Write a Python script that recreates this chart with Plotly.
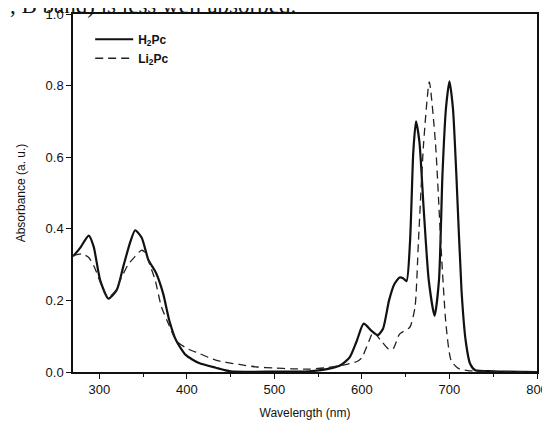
import plotly.graph_objects as go

# H2Pc (solid)
h2_wl = [270, 278, 288, 293.6, 301, 310.5, 320, 327.5, 335, 341, 348.5, 356, 365, 373, 380, 388, 399, 414, 433, 450,
         500, 540, 560, 575, 586, 594, 602, 611, 618, 624, 631, 637, 643, 647, 651, 655, 658.7, 661.8, 665.7, 670.5,
         676.4, 683, 688, 692, 696, 700, 704, 707.9, 713.8, 718.5, 723.6, 729.5, 750, 800]
h2_abs = [0.323, 0.346, 0.381, 0.35, 0.257, 0.205, 0.229, 0.295, 0.36, 0.396, 0.375, 0.314, 0.276, 0.219, 0.144, 0.087,
          0.047, 0.025, 0.012, 0.002, 0.001, 0.002, 0.008, 0.018, 0.041, 0.086, 0.135, 0.115, 0.103, 0.12, 0.20,
          0.245, 0.264, 0.262, 0.254, 0.366, 0.615, 0.70, 0.643, 0.458, 0.255, 0.157, 0.255, 0.55, 0.736, 0.812,
          0.736, 0.55, 0.227, 0.088, 0.023, 0.005, 0.002, 0.0]

# Li2Pc (dashed)
li_wl = [270, 280, 288, 295, 302, 310, 318, 325, 333, 341, 348, 352, 357, 364, 371, 379, 388, 400, 414, 433, 460,
         480, 500, 520, 540, 560, 580, 595, 600, 608, 613, 621, 631, 636, 643, 654.7, 660.6, 664.6, 670.5, 677,
         684, 690, 696, 701.9, 710, 721, 740, 800]
li_abs = [0.325, 0.33, 0.32, 0.29, 0.245, 0.208, 0.225, 0.262, 0.30, 0.323, 0.34, 0.335, 0.305, 0.255, 0.182, 0.135,
          0.087, 0.066, 0.052, 0.033, 0.021, 0.014, 0.011, 0.009, 0.008, 0.012, 0.02, 0.03, 0.04, 0.086, 0.112,
          0.09, 0.063, 0.066, 0.106, 0.125, 0.18, 0.366, 0.64, 0.81, 0.64, 0.366, 0.134, 0.032, 0.01, 0.004,
          0.002, 0.0]

x_ticks = [300, 400, 500, 600, 700, 800]
y_ticks = [0.0, 0.2, 0.4, 0.6, 0.8, 1.0]

fig = go.Figure()
fig.add_trace(go.Scatter(x=h2_wl, y=h2_abs, mode="lines", name="<b>H<sub>2</sub>Pc</b>",
                         line=dict(color="#111111", width=2.2, shape="spline", smoothing=0.6)))
fig.add_trace(go.Scatter(x=li_wl, y=li_abs, mode="lines", name="<b>Li<sub>2</sub>Pc</b>",
                         line=dict(color="#222222", width=1.3, dash="8px,5px", shape="spline", smoothing=0.6)))

axis_common = dict(showline=True, linecolor="#111111", linewidth=1.5, mirror=True, showgrid=False,
                   zeroline=False, ticks="outside", tickcolor="#111111", tickwidth=1.2, ticklen=5,
                   automargin=False, ticklabeloverflow="allow",
                   tickfont=dict(family="Liberation Sans, Arial", size=13, color="#111111"))

fig.update_xaxes(range=[270, 800], tickvals=x_ticks,
                 minor=dict(dtick=50, ticks="outside", ticklen=3, tickcolor="#111111"),
                 title=dict(text="Wavelength (nm)", font=dict(family="Liberation Sans, Arial", size=12, color="#111111"),
                            standoff=12),
                 **axis_common)
fig.update_yaxes(range=[0, 1.0], tickvals=y_ticks, tickformat=".1f",
                 title=dict(text="Absorbance (a. u.)", font=dict(family="Liberation Sans, Arial", size=12, color="#111111"),
                            standoff=17),
                 **axis_common)

fig.add_annotation(text=", B band) is less well absorbed.", xref="paper", yref="paper", x=-0.14, y=1,
                   xanchor="left", yanchor="bottom", yshift=-6, showarrow=False,
                   font=dict(family="Liberation Serif, Times New Roman", size=23, color="#111111"))

fig.update_layout(width=550, height=429, margin=dict(l=65, r=21, t=6, b=65, autoexpand=False),
                  paper_bgcolor="white", plot_bgcolor="white",
                  legend=dict(x=0.037, y=0.97, xanchor="left", yanchor="top", bgcolor="rgba(0,0,0,0)",
                              itemwidth=38,
                              font=dict(family="Liberation Sans, Arial", size=12, color="#111111"),
                              tracegroupgap=2),
                  showlegend=True)

fig.write_html("out.html")
